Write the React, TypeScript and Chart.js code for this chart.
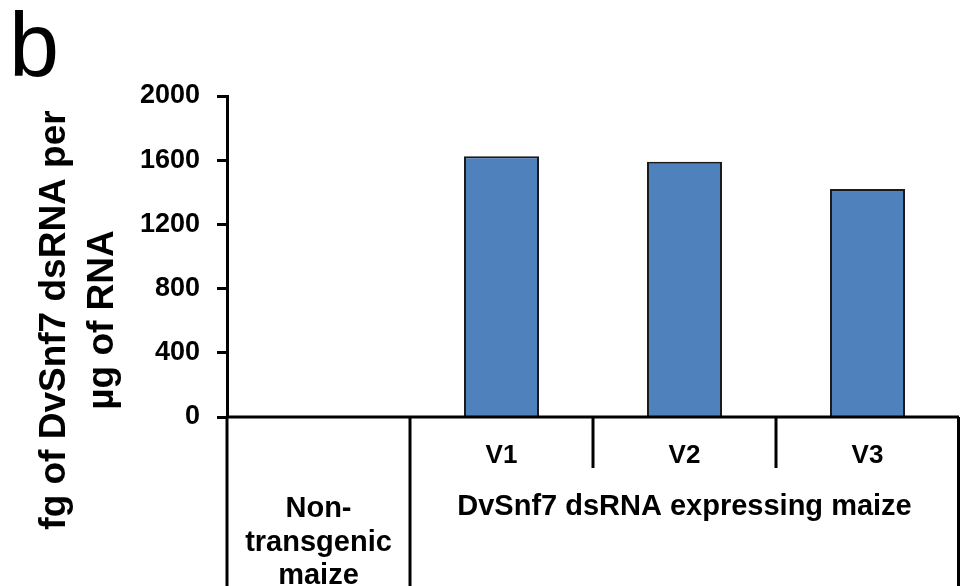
import React, { useEffect, useRef } from "react";
import { Chart, registerables } from "chart.js";

Chart.register(...registerables);

const categories = ["Non-transgenic maize", "V1", "V2", "V3"];
const dsRNAValues = [0, 1625, 1590, 1420];
const varietyLabels = ["", "V1", "V2", "V3"];
const nonTransgenicLines = ["Non-", "transgenic", "maize"];
const expressingLabel = "DvSnf7 dsRNA expressing maize";
const yTitleLines = ["fg of DvSnf7 dsRNA per", "\u00b5g of RNA"];
const panelLetter = "b";
const yMin = 0;
const yMax = 2000;
const yStep = 400;

const FONT = "'Liberation Sans', Arial, Helvetica, sans-serif";

const tablePlugin = {
  id: "tablePlugin",
  afterDraw(chart: any) {
    const { ctx, chartArea: ca, scales } = chart;
    const x = scales.x;
    const H = chart.height;
    const bound = (i: number) => (x.getPixelForValue(i - 1) + x.getPixelForValue(i)) / 2;
    ctx.save();
    ctx.strokeStyle = "#000";
    ctx.lineWidth = 3;
    ctx.lineCap = "butt";
    const line = (x1: number, y1: number, x2: number, y2: number) => {
      ctx.beginPath();
      ctx.moveTo(x1, y1);
      ctx.lineTo(x2, y2);
      ctx.stroke();
    };
    line(ca.left, ca.bottom, ca.right, ca.bottom);
    line(ca.left, ca.bottom, ca.left, H);
    line(bound(1), ca.bottom, bound(1), H);
    for (let i = 2; i < categories.length; i++) {
      line(bound(i), ca.bottom, bound(i), ca.bottom + 51);
    }
    line(ca.right - 0.5, ca.bottom, ca.right - 0.5, H);

    ctx.fillStyle = "#000";
    ctx.textAlign = "center";
    ctx.textBaseline = "alphabetic";
    ctx.font = `bold 26px ${FONT}`;
    varietyLabels.forEach((lab, i) => {
      if (lab) ctx.fillText(lab, x.getPixelForValue(i), ca.bottom + 46);
    });
    ctx.font = `bold 29px ${FONT}`;
    nonTransgenicLines.forEach((t, i) => {
      ctx.fillText(t, x.getPixelForValue(0), ca.bottom + 100 + i * 33.5);
    });
    ctx.fillText(expressingLabel, (bound(1) + ca.right) / 2, ca.bottom + 98);

    ctx.save();
    ctx.translate(0, 320);
    ctx.rotate(-Math.PI / 2);
    ctx.font = `bold 37px ${FONT}`;
    ctx.fillText(yTitleLines[0], 0, 65);
    ctx.fillText(yTitleLines[1], 0, 113);
    ctx.restore();

    ctx.textAlign = "left";
    ctx.font = `90px ${FONT}`;
    ctx.fillText(panelLetter, 9, 76);
    ctx.restore();
  },
};

export default function App() {
  const ref = useRef<HTMLCanvasElement>(null);
  useEffect(() => {
    if (!ref.current) return;
    const chart = new Chart(ref.current, {
      type: "bar",
      data: {
        labels: categories,
        datasets: [
          {
            data: dsRNAValues,
            backgroundColor: "#4F81BD",
            borderColor: "#1a1a1a",
            borderWidth: 2,
            categoryPercentage: 1,
            barPercentage: 0.41,
          },
        ],
      },
      options: {
        animation: false,
        responsive: false,
        events: [],
        layout: { padding: { left: 0, top: 96, right: 2, bottom: 169 } },
        plugins: { legend: { display: false }, tooltip: { enabled: false } },
        scales: {
          x: { display: false, offset: true },
          y: {
            min: yMin,
            max: yMax,
            ticks: {
              stepSize: yStep,
              color: "#000",
              padding: 17,
              font: { family: FONT, size: 27, weight: "bold" },
              callback: (v: any) => String(v),
            },
            grid: {
              drawOnChartArea: false,
              drawTicks: true,
              tickLength: 10,
              tickColor: "#000",
              tickWidth: 3,
            },
            border: { display: true, color: "#000", width: 3 },
            afterFit: (s: any) => {
              s.width = 227;
            },
          },
        },
      },
      plugins: [tablePlugin],
    });
    return () => chart.destroy();
  }, []);
  return (
    <div style={{ position: "absolute", left: 0, top: 0, width: 961, height: 586, background: "#fff" }}>
      <canvas ref={ref} width={961} height={586} />
    </div>
  );
}
